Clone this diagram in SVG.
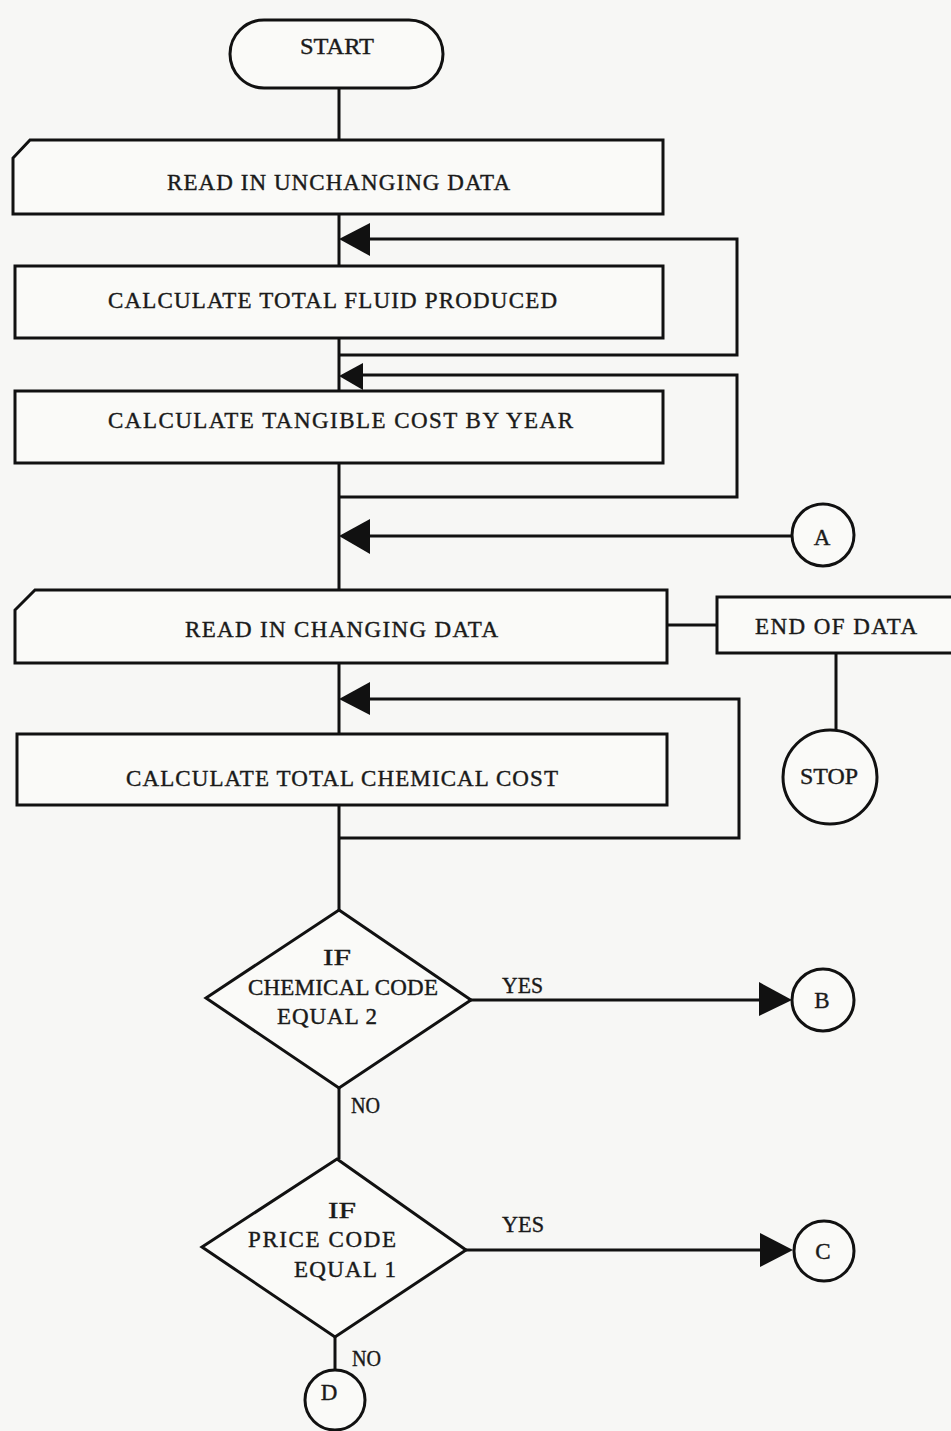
<svg xmlns="http://www.w3.org/2000/svg" width="951" height="1431" viewBox="0 0 951 1431">
<defs>
<style>
.s{fill:#fafaf8;stroke:#111;stroke-width:3}
.c{fill:none;stroke:#111;stroke-width:3}
.ah{fill:#111;stroke:none}
text{font-family:"Liberation Serif","Times New Roman",serif;font-size:23px;fill:#1a1a1a;stroke:#1a1a1a;stroke-width:0.4}
.m{text-anchor:middle}
</style>
</defs>
<rect x="0" y="0" width="951" height="1431" fill="#f7f7f5"/>
<g id="connectors">
<path class="c" d="M339 88 V140 M339 214 V266 M339 338 V392 M339 463 V590 M339 662 V734 M339 805 V910"/>
<path class="c" d="M368 239 H737 V355 H339"/>
<path class="c" d="M362 375 H737 V497 H339"/>
<path class="c" d="M368 536 H791"/>
<path class="c" d="M368 699 H739 V838 H339"/>
<path class="c" d="M667 625 H717 M836 653 V730"/>
<path class="c" d="M471 1000 H760"/>
<path class="c" d="M339 1088 V1159"/>
<path class="c" d="M466 1250 H761"/>
<path class="c" d="M335 1337 V1370"/>
<path class="ah" d="M339 239 L370 223 L370 256 Z"/>
<path class="ah" d="M339 376 L363 363 L363 390 Z"/>
<path class="ah" d="M339 536 L370 519 L370 554 Z"/>
<path class="ah" d="M339 699 L370 682 L370 715 Z"/>
<path class="ah" d="M792 1000 L759 982 L759 1016 Z"/>
<path class="ah" d="M793 1250 L760 1233 L760 1267 Z"/>
<text x="502" y="993" textLength="41" lengthAdjust="spacingAndGlyphs">YES</text>
<text x="351" y="1113" textLength="29" lengthAdjust="spacingAndGlyphs">NO</text>
<text x="502" y="1232" textLength="42" lengthAdjust="spacingAndGlyphs">YES</text>
<text x="352" y="1366" textLength="29" lengthAdjust="spacingAndGlyphs">NO</text>
</g>
<g id="start">
<rect class="s" x="230" y="20" width="213" height="68" rx="34" ry="34"/>
<text x="300" y="54" textLength="74" lengthAdjust="spacingAndGlyphs">START</text>
</g>
<g id="read-unchanging">
<path class="s" d="M30 140 H663 V214 H13 V158 Z"/>
<text x="167" y="190" textLength="343" lengthAdjust="spacing">READ IN UNCHANGING DATA</text>
</g>
<g id="calc-fluid">
<rect class="s" x="15" y="266" width="648" height="72"/>
<text x="108" y="308" textLength="449" lengthAdjust="spacing">CALCULATE TOTAL FLUID PRODUCED</text>
</g>
<g id="calc-tangible">
<rect class="s" x="15" y="391" width="648" height="72"/>
<text x="108" y="428" textLength="465" lengthAdjust="spacing">CALCULATE TANGIBLE COST BY YEAR</text>
</g>
<g id="conn-a">
<circle class="s" cx="823" cy="535" r="31"/>
<text class="m" x="822" y="545">A</text>
</g>
<g id="read-changing">
<path class="s" d="M35 590 H667 V663 H15 V610 Z"/>
<text x="185" y="637" textLength="313" lengthAdjust="spacing">READ IN CHANGING DATA</text>
</g>
<g id="end-of-data">
<rect class="s" x="717" y="597" width="240" height="56"/>
<text x="755" y="634" textLength="162" lengthAdjust="spacing">END OF DATA</text>
</g>
<g id="stop">
<circle class="s" cx="830" cy="777" r="47"/>
<text x="800" y="784" textLength="58" lengthAdjust="spacingAndGlyphs">STOP</text>
</g>
<g id="calc-chemical">
<rect class="s" x="17" y="734" width="650" height="71"/>
<text x="126" y="786" textLength="432" lengthAdjust="spacing">CALCULATE TOTAL CHEMICAL COST</text>
</g>
<g id="dec-chemical">
<path class="s" d="M339 910 L471 1000 L339 1088 L206 998 Z"/>
<text x="323" y="965" textLength="28" lengthAdjust="spacingAndGlyphs">IF</text>
<text x="248" y="995" textLength="190" lengthAdjust="spacing">CHEMICAL CODE</text>
<text x="277" y="1024" textLength="100" lengthAdjust="spacing">EQUAL 2</text>
</g>
<g id="conn-b">
<circle class="s" cx="823" cy="1000" r="31"/>
<text class="m" x="822" y="1008">B</text>
</g>
<g id="dec-price">
<path class="s" d="M337 1159 L466 1250 L335 1337 L202 1247 Z"/>
<text x="328" y="1218" textLength="28" lengthAdjust="spacingAndGlyphs">IF</text>
<text x="248" y="1247" textLength="148" lengthAdjust="spacing">PRICE CODE</text>
<text x="294" y="1277" textLength="102" lengthAdjust="spacing">EQUAL 1</text>
</g>
<g id="conn-c">
<circle class="s" cx="824" cy="1251" r="30"/>
<text class="m" x="823" y="1259">C</text>
</g>
<g id="conn-d">
<circle class="s" cx="335" cy="1400" r="30"/>
<text class="m" x="329" y="1400">D</text>
</g>
</svg>
